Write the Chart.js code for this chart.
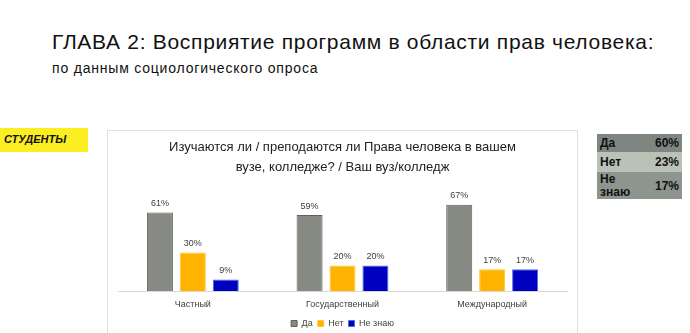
<!DOCTYPE html>
<html lang="ru">
<head>
<meta charset="utf-8">
<title>ГЛАВА 2</title>
<script src="https://cdn.jsdelivr.net/npm/chart.js@4.4.1/dist/chart.umd.min.js"></script>
<style>
  html, body { margin: 0; padding: 0; background: #ffffff; }
  body { width: 690px; height: 333px; position: relative; overflow: hidden; font-family: "Liberation Sans", Arial, sans-serif; }
  #head { position: absolute; left: 52px; top: 30px; font-size: 21px; color: #111; white-space: nowrap; letter-spacing: 0.7px; }
  #sub { position: absolute; left: 52px; top: 60px; font-size: 14px; color: #111; white-space: nowrap; letter-spacing: 0.8px; }
  #tag { position: absolute; left: 0; top: 128px; width: 88px; height: 24px; background: #fbee23; }
  #tag span { position: absolute; left: 4px; top: 5px; font-size: 11px; font-weight: bold; font-style: italic; color: #111; }
  #box { position: absolute; left: 107px; top: 130px; width: 471px; height: 214px; border: 1px solid #dde3da; box-sizing: border-box; }
  #wrap { position: absolute; left: 108px; top: 132px; width: 469px; height: 206px; }
  #summary { position: absolute; left: 597px; top: 134px; width: 85px; border-collapse: collapse; font-size: 12px; font-weight: bold; color: #111; }
  #summary td { padding: 0 3px; }
  #summary td.v { text-align: right; }
</style>
</head>
<body>
<div id="head">ГЛАВА 2: Восприятие программ в области прав человека:</div>
<div id="sub">по данным социологического опроса</div>
<div id="tag"><span>СТУДЕНТЫ</span></div>
<div id="box"></div>
<div id="wrap"><canvas id="chart" width="469" height="206"></canvas></div>
<table id="summary">
  <tr style="background:#7f8580;height:18px"><td>Да</td><td class="v">60%</td></tr>
  <tr style="background:#bac1b7;height:20px"><td>Нет</td><td class="v">23%</td></tr>
  <tr style="background:#8e958e;height:27px"><td style="line-height:13px">Не<br>знаю</td><td class="v">17%</td></tr>
</table>
<script>
// Survey answers by type of institution
const categories = ['Частный', 'Государственный', 'Международный'];
const seriesNames = ['Да', 'Нет', 'Не знаю'];
const yesValues = [61, 59, 67];
const noValues = [30, 20, 17];
const dontKnowValues = [9, 20, 17];

const labelFont = '"Liberation Sans", Arial, sans-serif';

// Percent labels above every bar
const barLabels = {
  id: 'barLabels',
  afterDatasetsDraw(chart) {
    const ctx = chart.ctx;
    ctx.save();
    ctx.font = '9px ' + labelFont;
    ctx.fillStyle = '#404040';
    ctx.textAlign = 'center';
    ctx.textBaseline = 'middle';
    chart.data.datasets.forEach((ds, i) => {
      chart.getDatasetMeta(i).data.forEach((bar, j) => {
        ctx.fillText(ds.data[j] + '%', bar.x, bar.y - 9);
      });
    });
    ctx.restore();
  }
};

// Keep the legend row compact while leaving room between its items
const compactLegend = {
  id: 'compactLegend',
  beforeInit(chart) {
    const legend = chart.legend;
    if (!legend || legend._compact) return;
    const fit = legend.fit;
    legend.fit = function () {
      fit.call(this);
      this.height -= 4;
    };
    legend._compact = true;
  },
  afterLayout(chart) {
    const legend = chart.legend;
    if (!legend) return;
    legend.top -= 4;
    legend.bottom -= 4;
  }
};

new Chart(document.getElementById('chart'), {
  type: 'bar',
  data: {
    labels: categories,
    datasets: [
      { label: seriesNames[0], data: yesValues, backgroundColor: '#878a83', borderColor: '#5f625d', borderWidth: 1 },
      { label: seriesNames[1], data: noValues, backgroundColor: '#ffb300', borderColor: '#ffc830', borderWidth: 1 },
      { label: seriesNames[2], data: dontKnowValues, backgroundColor: '#0000c0', borderColor: '#4a6fe0', borderWidth: 1 }
    ]
  },
  options: {
    responsive: false,
    animation: false,
    layout: { padding: { left: 10, right: 10, top: 0, bottom: 0 } },
    datasets: { bar: { categoryPercentage: 0.66, barPercentage: 0.79 } },
    scales: {
      x: {
        grid: { display: false, drawTicks: false },
        border: { display: true, color: '#d9d9d9' },
        ticks: { color: '#404040', font: { size: 9, family: labelFont }, padding: 8 }
      },
      y: { display: false, min: 0, max: 80 }
    },
    plugins: {
      title: {
        display: true,
        text: ['Изучаются ли / преподаются ли Права человека в вашем', 'вузе, колледже? / Ваш вуз/колледж'],
        color: '#222',
        font: { size: 13, family: labelFont, weight: 'normal', lineHeight: 1.5 },
        padding: { top: 6, bottom: 11 }
      },
      legend: {
        position: 'bottom',
        labels: { boxWidth: 6, boxHeight: 6, color: '#404040', font: { size: 9, family: labelFont }, padding: 5 }
      },
      tooltip: { enabled: false }
    }
  },
  plugins: [barLabels, compactLegend]
});
</script>
</body>
</html>
